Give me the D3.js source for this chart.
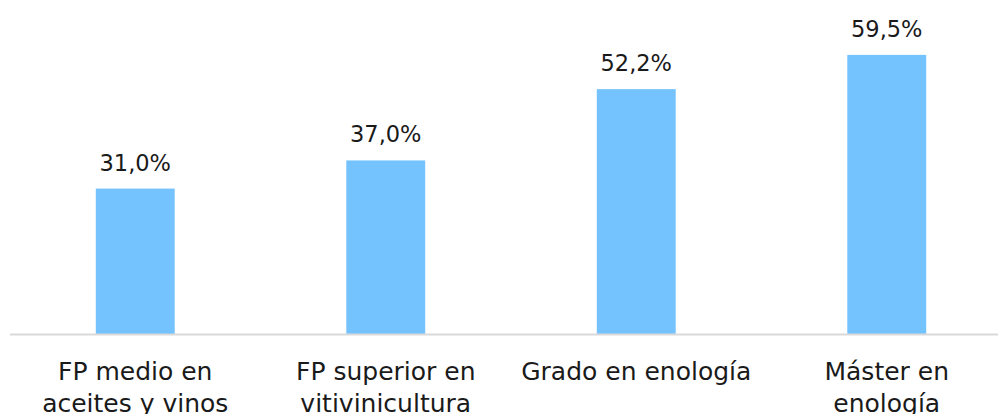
<!DOCTYPE html>
<html>
<head>
<meta charset="utf-8">
<script src="https://cdn.jsdelivr.net/npm/d3@7"></script>
<style>
  body { margin: 0; background: #fff; overflow: hidden; }
  text { font-family: "DejaVu Sans", sans-serif; fill: #1a1a1a; }
</style>
</head>
<body>
<div id="chart"></div>
<script>
  const categories = [
    ["FP medio en", "aceites y vinos"],
    ["FP superior en", "vitivinicultura"],
    ["Grado en enología"],
    ["Máster en", "enología"]
  ]
  const values = [31.0, 37.0, 52.2, 59.5]

  const width = 998
  const height = 414
  const margin = { top: 0, bottom: 80, left: 10, right: -14 }

  const svg = d3.select("#chart")
    .append("svg")
    .attr("width", width)
    .attr("height", height)

  const x = d3.scaleBand()
    .domain(d3.range(values.length))
    .range([margin.left, width - margin.right])
    .paddingInner(0.685)
    .paddingOuter(0.3425)

  const y = d3.scaleLinear()
    .domain([0, 71.2])
    .range([334, 0])

  svg.append("g")
    .selectAll("rect")
    .data(values)
    .join("rect")
      .attr("x", (d, i) => x(i))
      .attr("y", d => y(d))
      .attr("width", x.bandwidth())
      .attr("height", d => y(0) - y(d))
      .attr("fill", "#75c3fe")

  svg.append("line")
    .attr("x1", margin.left)
    .attr("x2", width)
    .attr("y1", y(0) + 0.5)
    .attr("y2", y(0) + 0.5)
    .attr("stroke", "#d9d9d9")
    .attr("stroke-width", 2)

  const fmt = d => d.toFixed(1).replace(".", ",") + "%"

  svg.append("g")
    .selectAll("text")
    .data(values)
    .join("text")
      .attr("x", (d, i) => x(i) + x.bandwidth() / 2)
      .attr("y", d => y(d) - 18)
      .attr("text-anchor", "middle")
      .attr("font-size", "22.5px")
      .text(fmt)

  const lab = svg.append("g")
    .selectAll("text")
    .data(categories)
    .join("text")
      .attr("x", (d, i) => x(i) + x.bandwidth() / 2)
      .attr("y", 380)
      .attr("text-anchor", "middle")
      .attr("font-size", "25px")

  lab.selectAll("tspan")
    .data(d => d)
    .join("tspan")
      .attr("x", function() { return this.parentNode.getAttribute("x") })
      .attr("dy", (d, i) => i == 0 ? 0 : 32)
      .text(d => d)
</script>
</body>
</html>
